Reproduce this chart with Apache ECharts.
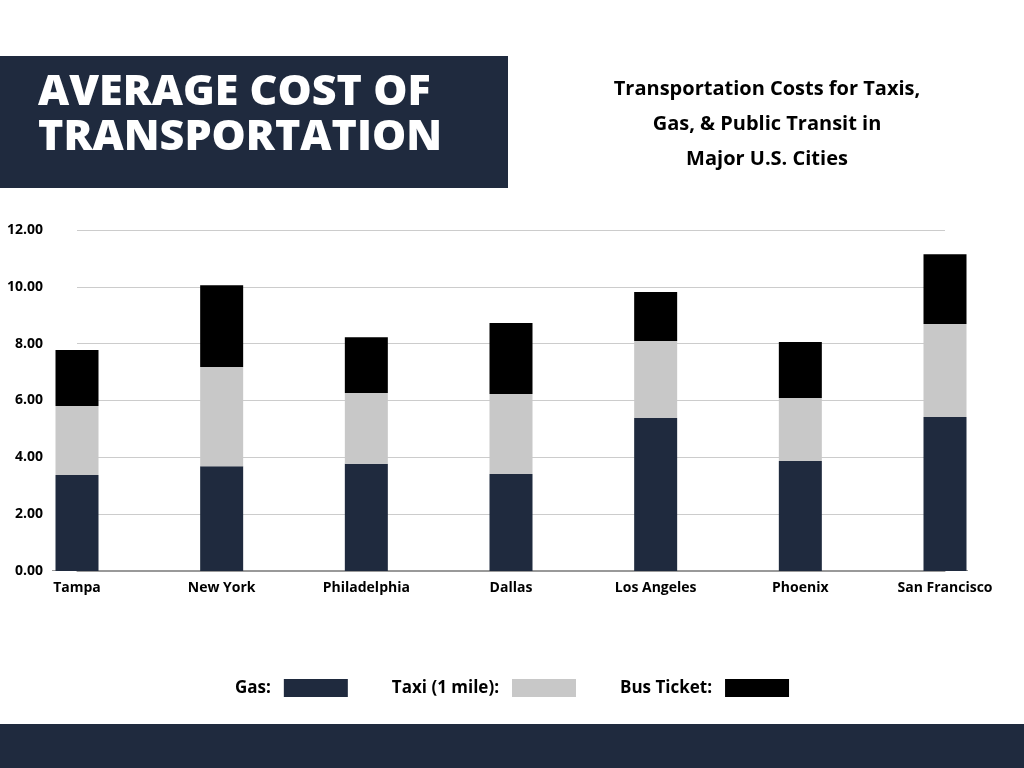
<!DOCTYPE html>
<html>
<head>
<meta charset="utf-8">
<script src="https://cdn.jsdelivr.net/npm/echarts@6/dist/echarts.min.js"></script>
<style>
  html, body { margin: 0; padding: 0; background: #fff; }
  #chart { width: 1024px; height: 768px; }
</style>
</head>
<body>
<div id="chart"></div>
<script>
// values
var cities = ['Tampa', 'New York', 'Philadelphia', 'Dallas', 'Los Angeles', 'Phoenix', 'San Francisco'];
var gas = [3.38, 3.69, 3.77, 3.41, 5.38, 3.87, 5.42];
var taxi = [2.43, 3.49, 2.49, 2.82, 2.71, 2.22, 3.27];
var bus = [1.97, 2.88, 1.97, 2.50, 1.73, 1.97, 2.46];

var chart = echarts.init(document.getElementById('chart'));
var font = '"Open Sans", "DejaVu Sans", sans-serif';

var option = {
    backgroundColor: '#fff',
    graphic: [
        { type: 'rect', shape: { x: 0, y: 56, width: 508, height: 132 }, style: { fill: '#1f2a3e' } },
        { type: 'text', left: 38, top: 70, style: {
            text: 'AVERAGE COST OF\nTRANSPORTATION', fill: '#fff', font: '800 43px ' + font, lineHeight: 45 } },
        { type: 'text', style: {
            x: 767, y: 72,
            text: 'Transportation Costs for Taxis,\nGas, & Public Transit in\nMajor U.S. Cities',
            fill: '#000', font: 'bold 20px ' + font, lineHeight: 35, textAlign: 'center' } },
        { type: 'rect', shape: { x: 0, y: 724, width: 1024, height: 44 }, style: { fill: '#1f2a3e' } },
        // grid lines reach a little past the outer bars in the reference
        { type: 'rect', shape: { x: 52, y: 570, width: 916, height: 1 }, style: { fill: '#999' }, z: -1 }
    ],
    legend: {
        bottom: 66,
        left: 'center',
        align: 'right',
        itemWidth: 64,
        itemHeight: 18,
        itemGap: 44,
        icon: 'rect',
        textStyle: { fontFamily: font, fontWeight: 'bold', fontSize: 17, color: '#000', padding: [0, 8, 0, 0] },
        formatter: function (n) { return n + ':'; },
        data: ['Gas', 'Taxi (1 mile)', 'Bus Ticket']
    },
    grid: { left: 77, right: 79, top: 230, bottom: 197 },
    xAxis: {
        type: 'category',
        data: cities,
        boundaryGap: false,
        axisTick: { show: false },
        axisLine: { lineStyle: { color: '#999' } },
        axisLabel: { color: '#000', fontFamily: font, fontWeight: 'bold', fontSize: 14, margin: 10 }
    },
    yAxis: {
        type: 'value',
        min: 0,
        max: 12,
        interval: 2,
        axisLabel: {
            color: '#000', fontFamily: font, fontWeight: 'bold', fontSize: 14, margin: 34,
            formatter: function (v) { return v.toFixed(2); }
        },
        splitLine: { lineStyle: { color: '#ccc' } }
    },
    series: [
        { name: 'Gas', type: 'bar', stack: 'c', barWidth: 43, data: gas, itemStyle: { color: '#1f2a3e' } },
        { name: 'Taxi (1 mile)', type: 'bar', stack: 'c', data: taxi, itemStyle: { color: '#c8c8c8' } },
        { name: 'Bus Ticket', type: 'bar', stack: 'c', data: bus, itemStyle: { color: '#000' } }
    ]
};
chart.setOption(option);
</script>
</body>
</html>
